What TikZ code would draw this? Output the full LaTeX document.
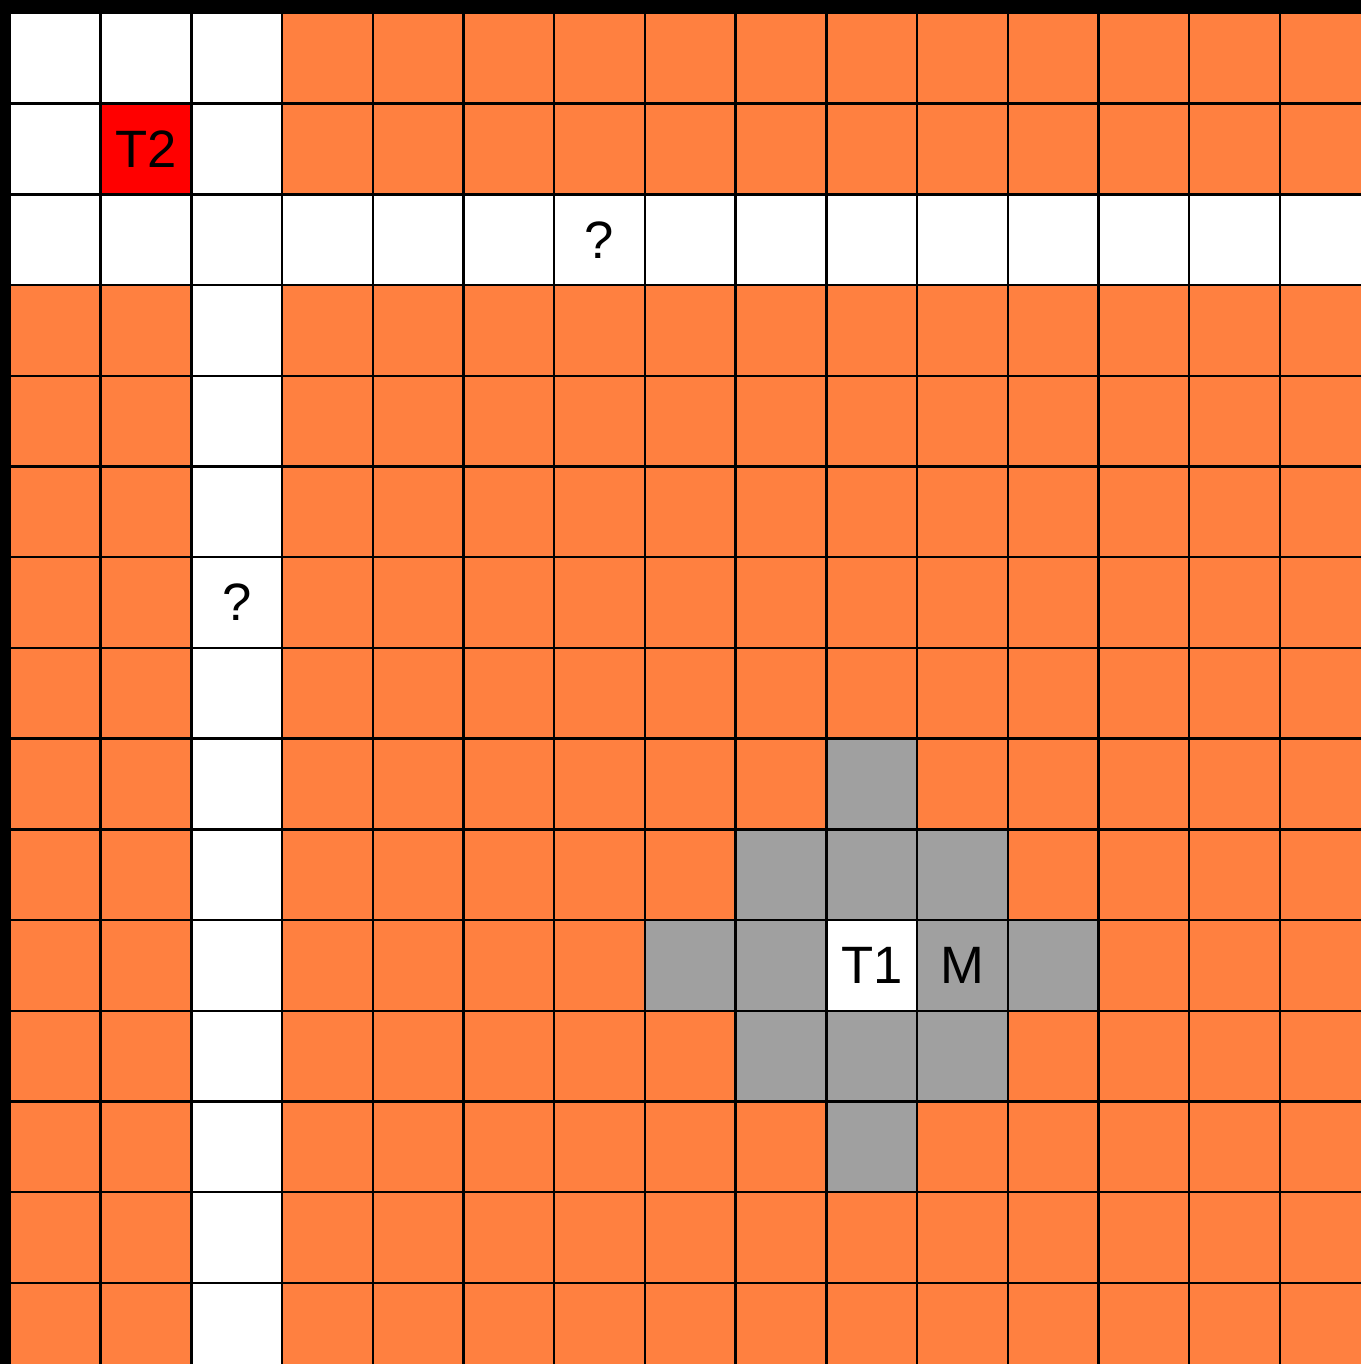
\documentclass[tikz,border=0pt]{standalone}
\usepackage{fontspec}
\setmainfont{Liberation Sans}
\definecolor{cellorange}{HTML}{FF8040}
\definecolor{cellgray}{HTML}{A0A0A0}
\definecolor{cellred}{HTML}{FF0000}

\begin{document}
\begin{tikzpicture}[x=1cm, y=-1cm,
    cell/.style={minimum size=1cm, inner sep=0pt, font=\fontsize{16.5}{20}\selectfont}]
    % Frame and page size
    \useasboundingbox (-0.11,-0.143) rectangle (14.894,14.894);
    \fill[black] (-0.11,-0.143) rectangle (14.894,14.894);
    \clip (-0.11,-0.143) rectangle (14.894,14.894);

    % Background cells
    \fill[cellorange] (0,0) rectangle (15,15);
    \fill[white] (0,0) rectangle (3,3);
    \fill[white] (0,2) rectangle (15,3);
    \fill[white] (2,0) rectangle (3,15);

    % Gray neighbourhood around T1 (column/row)
    \foreach \c/\r in {9/8, 8/9, 9/9, 10/9, 7/10, 8/10, 10/10, 11/10, 8/11, 9/11, 10/11, 9/12}
        \fill[cellgray] (\c,\r) rectangle ++(1,1);
    \fill[white] (9,10) rectangle ++(1,1);
    \fill[cellred] (1,1) rectangle ++(1,1);

    % Draw the grid
    \draw[line width=0.75pt] (0,0) grid (15,15);

    % Labels
    \node[cell] (T2) at (1.5,1.5) {T2};
    \node[cell] (Q1) at (6.5,2.5) {?};
    \node[cell] (Q2) at (2.5,6.5) {?};
    \node[cell] (T1) at (9.5,10.5) {T1};
    \node[cell] (M)  at (10.5,10.5) {M};
\end{tikzpicture}
\end{document}
